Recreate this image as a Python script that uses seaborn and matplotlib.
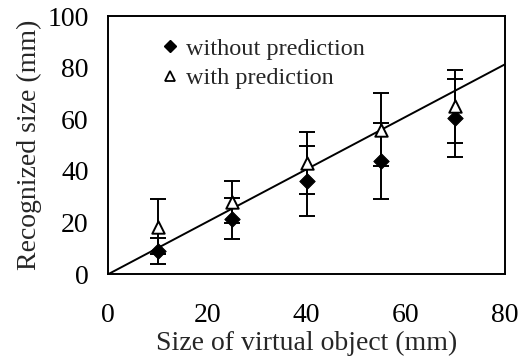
import numpy as np
import pandas as pd
import matplotlib
matplotlib.use("Agg")
import matplotlib.pyplot as plt
import seaborn as sns
from matplotlib.lines import Line2D

# ---- data ----
sizes = [10, 25, 40, 55, 70]
without_mean = [9.0, 21.5, 36.0, 44.0, 60.5]
without_err = [5.0, 8.0, 13.5, 14.7, 15.0]
with_mean = [18.5, 28.0, 43.0, 56.0, 65.0]
with_err = [10.8, 8.0, 12.0, 14.0, 14.0]
ref_x = [0, 80]
ref_y = [0, 81.3]
x_ticks = [0, 20, 40, 60, 80]
y_ticks = [0, 20, 40, 60, 80, 100]
labels = ["without prediction", "with prediction"]

sns.set_style("white")
plt.rcParams['font.family'] = ['Liberation Serif', 'DejaVu Serif']

df = pd.DataFrame({
    "size": sizes * 2,
    "mean": without_mean + with_mean,
    "err": without_err + with_err,
    "series": [labels[0]] * len(sizes) + [labels[1]] * len(sizes),
})

fig = plt.figure(figsize=(5.25, 3.57), dpi=100)
ax = fig.add_axes([108 / 525, 1 - 274.3 / 357, (505 - 108) / 525, (274.3 - 16) / 357])

LW = 1.4
# reference line
sns.lineplot(x=ref_x, y=ref_y, ax=ax, color="black", linewidth=LW, zorder=2)

# error bars
for s, sub in df.groupby("series", sort=False):
    ax.errorbar(sub["size"], sub["mean"], yerr=sub["err"], fmt="none",
                ecolor="black", elinewidth=LW, capsize=5.5, capthick=LW, zorder=3)

# markers
sub0 = df[df.series == labels[0]]
sub1 = df[df.series == labels[1]]
sns.scatterplot(data=sub0, x="size", y="mean", ax=ax, marker="D", s=62,
                color="black", edgecolor="black", zorder=4, legend=False)
sns.scatterplot(data=sub1, x="size", y="mean", ax=ax, marker="^", s=80,
                facecolor="white", edgecolor="black", linewidth=1.4, zorder=5, legend=False)

ax.set_xlim(0, 80)
ax.set_ylim(0, 100)
ax.set_xticks(x_ticks)
ax.set_yticks(y_ticks)
ax.tick_params(direction="in", length=6, width=LW, labelsize=20, colors="black")
ax.tick_params(axis="x", pad=21)
ax.tick_params(axis="y", pad=14)
for sp in ax.spines.values():
    sp.set_visible(True)
    sp.set_color("black")
    sp.set_linewidth(LW)

ax.set_xlabel("Size of virtual object (mm)", fontsize=20, labelpad=2)
ax.set_ylabel("Recognized size (mm)", fontsize=20, labelpad=4)

handles = [
    Line2D([], [], linestyle="none", marker="D", markersize=6.5, color="black"),
    Line2D([], [], linestyle="none", marker="^", markersize=7.5, markerfacecolor="white",
           markeredgecolor="black", markeredgewidth=1.3),
]
ax.legend(handles, labels, loc="upper left", bbox_to_anchor=(0.132, 0.915), frameon=False,
          fontsize=17.5, handlelength=0.8, handletextpad=0.25, labelspacing=0.3,
          borderaxespad=0, borderpad=0)

fig.savefig("out.png", dpi=100)
